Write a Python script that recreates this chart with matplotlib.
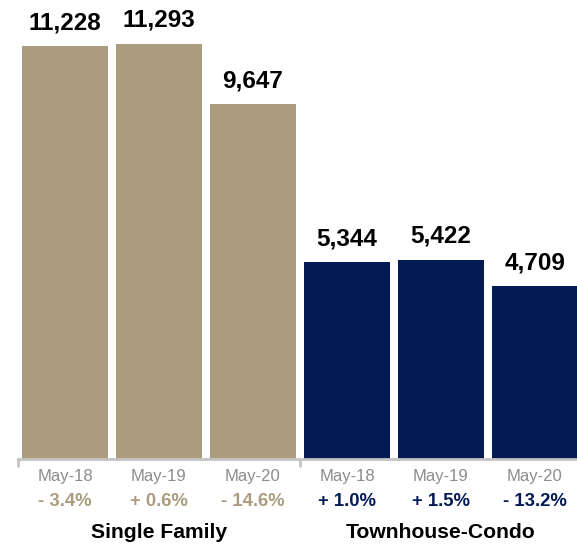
import matplotlib
matplotlib.use("Agg")
import matplotlib.pyplot as plt

plt.rcParams['font.family'] = ['Liberation Sans', 'DejaVu Sans']

groups = ["Single Family", "Townhouse-Condo"]
months = ["May-18", "May-19", "May-20", "May-18", "May-19", "May-20"]
values = [11228, 11293, 9647, 5344, 5422, 4709]
changes = ["- 3.4%", "+ 0.6%", "- 14.6%", "+ 1.0%", "+ 1.5%", "- 13.2%"]

tan = "#ac9c7f"
navy = "#041a55"
bar_colors = [tan, tan, tan, navy, navy, navy]

W, H, DPI = 577, 547, 100
fig = plt.figure(figsize=(W / DPI, H / DPI), dpi=DPI)
ax_bottom_px = 459
ax = fig.add_axes([18 / W, (H - ax_bottom_px) / H, 1 - 18 / W, ax_bottom_px / H])

x = list(range(len(values)))
ax.bar(x, values, width=0.915, color=bar_colors)
ax.set_xlim(-0.5, 5.447)
ax.set_ylim(0, 12480)

for xi, v in zip(x, values):
    ax.annotate(f"{v:,}", (xi, v), xytext=(0, 12), textcoords="offset points",
                ha="center", va="baseline", fontsize=17.5, fontweight="bold",
                color="black")

# axes styling
for side in ("top", "right", "left"):
    ax.spines[side].set_visible(False)
ax.spines["bottom"].set_color("#c4c4c4")
ax.spines["bottom"].set_linewidth(2)
ax.set_yticks([])
ax.set_xticks([-0.5, 2.5])
ax.set_xticklabels([])
ax.tick_params(axis="x", length=6, width=2, color="#c4c4c4")

tr = ax.get_xaxis_transform()
def yfrac(px):
    return (ax_bottom_px - px) / ax_bottom_px

for xi, m, c, col in zip(x, months, changes, bar_colors):
    ax.text(xi, yfrac(476), m, transform=tr, ha="center", va="center",
            fontsize=12, color="#8c8c8c", clip_on=False)
    ax.text(xi, yfrac(502), c, transform=tr, ha="center", va="center",
            fontsize=13.3, fontweight="bold", color=col, clip_on=False)

ax.text(1, yfrac(533), groups[0], transform=tr, ha="center", va="center",
        fontsize=15.2, fontweight="bold", color="black", clip_on=False)
ax.text(4, yfrac(533), groups[1], transform=tr, ha="center", va="center",
        fontsize=15.2, fontweight="bold", color="black", clip_on=False)

fig.savefig("out.png", dpi=DPI)
